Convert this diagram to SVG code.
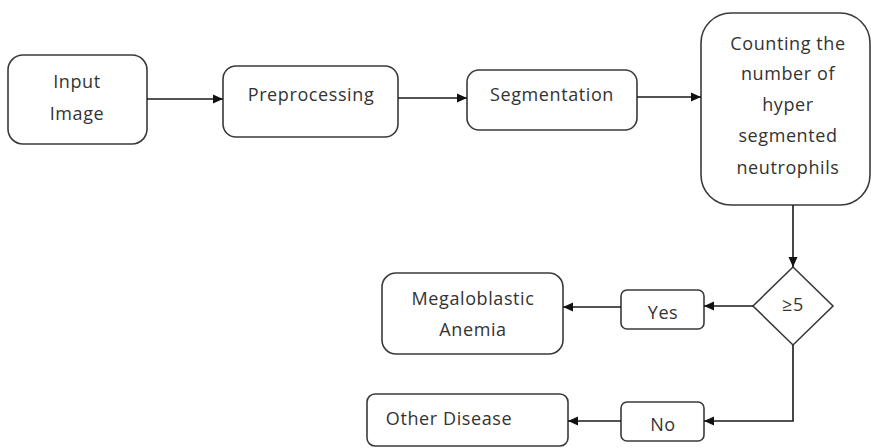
<svg xmlns="http://www.w3.org/2000/svg" width="871" height="448" viewBox="0 0 871 448">
  <style>
    .box { fill: #ffffff; stroke: #3a3a3a; stroke-width: 1.6; }
    .lbl { font-family: "Open Sans", "Liberation Sans", sans-serif; font-size: 18px; letter-spacing: 0.6px; fill: #333333; text-anchor: middle; dominant-baseline: central; }
    .edge { fill: none; stroke: #1a1a1a; stroke-width: 1.6; marker-end: url(#arrow); }
  </style>
  <defs>
    <marker id="arrow" viewBox="0 0 10 10" refX="10" refY="5" markerWidth="10" markerHeight="10" markerUnits="userSpaceOnUse" orient="auto">
      <path d="M0,0.5 L10,5 L0,9.5 Z" fill="#111111"/>
    </marker>
  </defs>
  <rect width="871" height="448" fill="#ffffff"/>

  <g id="input-image">
    <rect class="box" x="8" y="55" width="139" height="89" rx="15"/>
    <text class="lbl" x="77" y="81">Input</text>
    <text class="lbl" x="77" y="113">Image</text>
  </g>
  <g id="preprocessing">
    <rect class="box" x="223" y="66" width="175" height="71" rx="13"/>
    <text class="lbl" x="311" y="94">Preprocessing</text>
  </g>
  <g id="segmentation">
    <rect class="box" x="467" y="70" width="170" height="60" rx="12"/>
    <text class="lbl" x="552" y="94">Segmentation</text>
  </g>
  <g id="counting">
    <rect class="box" x="701" y="13" width="169" height="192" rx="30"/>
    <text class="lbl" x="788" y="43">Counting the</text>
    <text class="lbl" x="788" y="73">number of</text>
    <text class="lbl" x="788" y="104">hyper</text>
    <text class="lbl" x="788" y="135">segmented</text>
    <text class="lbl" x="788" y="167">neutrophils</text>
  </g>
  <g id="decision">
    <polygon class="box" points="793,267 833,306 793,345 753,306"/>
    <text class="lbl" x="793" y="304">≥5</text>
  </g>
  <g id="yes">
    <rect class="box" x="621" y="290" width="83" height="39" rx="6"/>
    <text class="lbl" x="663" y="312">Yes</text>
  </g>
  <g id="no">
    <rect class="box" x="621" y="402" width="83" height="39" rx="6"/>
    <text class="lbl" x="663" y="424">No</text>
  </g>
  <g id="megaloblastic-anemia">
    <rect class="box" x="382" y="273" width="181" height="81" rx="14"/>
    <text class="lbl" x="473" y="298">Megaloblastic</text>
    <text class="lbl" x="473" y="329">Anemia</text>
  </g>
  <g id="other-disease">
    <rect class="box" x="367" y="394" width="201" height="52" rx="8"/>
    <text class="lbl" x="449" y="418">Other Disease</text>
  </g>

  <g id="connectors">
    <path class="edge" d="M147,99 H223"/>
    <path class="edge" d="M398,98 H467"/>
    <path class="edge" d="M637,97 H701"/>
    <path class="edge" d="M793,205 V267"/>
    <path class="edge" d="M753,306 H704"/>
    <path class="edge" d="M621,307 H563"/>
    <path class="edge" d="M793,345 V421 H704"/>
    <path class="edge" d="M621,421 H568"/>
  </g>
</svg>
